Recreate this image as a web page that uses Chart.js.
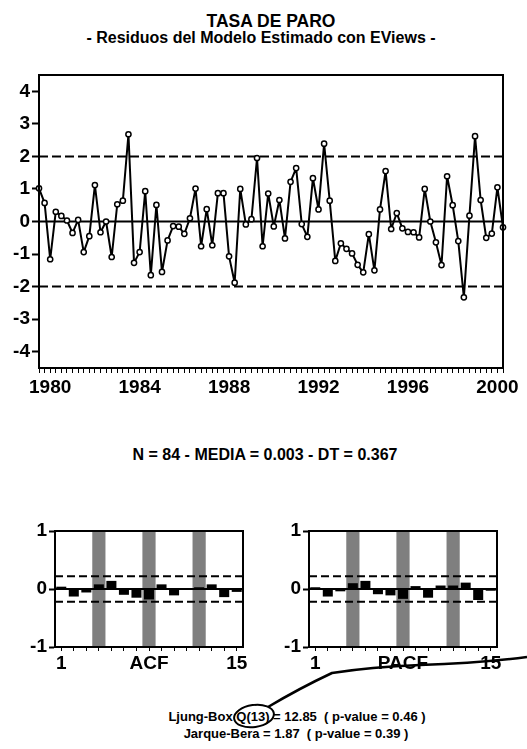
<!DOCTYPE html>
<html>
<head>
<meta charset="utf-8">
<script src="https://cdn.jsdelivr.net/npm/chart.js@4.4.1/dist/chart.umd.min.js"></script>
<style>
  html, body { margin: 0; padding: 0; background: #fff; }
  body { width: 527px; height: 749px; position: relative; overflow: hidden;
         font-family: "Liberation Sans", Arial, sans-serif; color: #000; }
  canvas { position: absolute; }
  .txt { position: absolute; white-space: nowrap; font-weight: bold; transform: translateX(-50%); }
  #notas { position: absolute; left: 0; top: 0; }
</style>
</head>
<body>
<div class="txt" style="left:271px; top:13px; font-size:17.5px; line-height:17px;">TASA DE PARO</div>
<div class="txt" style="left:261px; top:30px; font-size:16px; line-height:16px;">- Residuos del Modelo Estimado con EViews -</div>

<canvas id="residuos" width="527" height="350" style="left:0; top:60px;"></canvas>

<div class="txt" style="left:265px; top:447px; font-size:16px; line-height:16px;">N = 84 - MEDIA = 0.003 - DT = 0.367</div>

<canvas id="acf" width="260" height="175" style="left:0; top:510px;"></canvas>
<canvas id="pacf" width="267" height="175" style="left:260px; top:510px;"></canvas>

<div class="txt" style="left:297px; top:709px; font-size:13px; line-height:16px;">Ljung-Box Q(13) = 12.85&nbsp; ( p-value = 0.46 )</div>
<div class="txt" style="left:296px; top:726px; font-size:13px; line-height:16px;">Jarque-Bera = 1.87&nbsp; ( p-value = 0.39 )</div>

<!-- anotación a mano sobre la imagen -->
<svg id="notas" width="527" height="749">
  <ellipse cx="254" cy="716" rx="20" ry="11" fill="none" stroke="#000" stroke-width="2" transform="rotate(-8 254 716)"/>
  <path d="M 268 707 Q 300 688 332 673 Q 370 667 420 665 Q 480 663 527 657" fill="none" stroke="#000" stroke-width="2.5"/>
</svg>

<script>
// ========== Datos ==========
const anioInicio = 1980;
const anioFin = 2000;
const trimestres = [];
for (let a = anioInicio; a <= anioFin; a++) {
  for (let q = 1; q <= 4; q++) trimestres.push(a + "Q" + q);
}

// residuos estandarizados (trimestral 1980Q1 - 2000Q4)
const residuos = [
  1.02, 0.57, -1.16, 0.30, 0.17, 0.03, -0.35, 0.05, -0.94, -0.45,
  1.12, -0.33, 0.00, -1.09, 0.53, 0.64, 2.68, -1.27, -0.94, 0.93,
  -1.65, 0.51, -1.55, -0.58, -0.14, -0.16, -0.38, 0.10, 1.01, -0.76,
  0.38, -0.73, 0.87, 0.87, -1.07, -1.88, 1.00, -0.09, 0.07, 1.95,
  -0.76, 0.86, -0.15, 0.66, -0.52, 1.22, 1.64, -0.08, -0.47, 1.33,
  0.37, 2.39, 0.64, -1.21, -0.67, -0.84, -0.98, -1.33, -1.56, -0.39,
  -1.50, 0.37, 1.55, -0.23, 0.26, -0.21, -0.32, -0.33, -0.49, 1.00,
  0.00, -0.64, -1.34, 1.39, 0.50, -0.60, -2.33, 0.18, 2.62, 0.66,
  -0.50, -0.37, 1.05, -0.18,
];
const bandasResiduos = [2, -2];
const ticksResiduos = [-4, -3, -2, -1, 0, 1, 2, 3, 4];
const rangoResiduos = [-4.5, 4.5];

const retardos = [1, 2, 3, 4, 5, 6, 7, 8, 9, 10, 11, 12, 13, 14, 15];
const valoresACF = [0.04, -0.13, -0.06, 0.08, 0.14, -0.10, -0.15, -0.18, 0.08, -0.11, 0.01, 0.03, 0.08, -0.14, -0.05];
const valoresPACF = [0.03, -0.13, -0.04, 0.10, 0.14, -0.09, -0.11, -0.17, 0.05, -0.15, 0.06, 0.06, 0.11, -0.19, -0.03];
const retardosEstacionales = [4, 8, 12];
const limiteConfianza = 0.22;
const ticksCorrelograma = [-1, 0, 1];

const FUENTE = "'Liberation Sans', Arial, sans-serif";
const fuenteTicks = { family: FUENTE, size: 19, weight: "bold" };

// marco negro alrededor del área de dibujo
const marco = {
  id: "marco",
  afterDraw(chart) {
    const { ctx, chartArea: a } = chart;
    ctx.save();
    ctx.strokeStyle = "#000";
    ctx.lineWidth = 2;
    ctx.strokeRect(a.left, a.top, a.right - a.left, a.bottom - a.top);
    ctx.restore();
  },
};

// ========== Gráfico de residuos ==========
function lineaConstante(valor, dash, orden) {
  return {
    data: trimestres.map(() => valor),
    borderColor: "#000",
    borderWidth: 2,
    borderDash: dash,
    pointRadius: 0,
    order: orden,
  };
}

new Chart(document.getElementById("residuos"), {
  type: "line",
  data: {
    labels: trimestres,
    datasets: [
      {
        data: residuos,
        borderColor: "#000",
        borderWidth: 2,
        borderJoinStyle: "round",
        tension: 0,
        pointRadius: 2.6,
        pointBorderWidth: 1.5,
        pointBackgroundColor: "#fff",
        pointBorderColor: "#000",
        order: 0,
      },
      lineaConstante(0, [], 1),
      ...bandasResiduos.map((b) => lineaConstante(b, [9, 4], 2)),
    ],
  },
  options: {
    responsive: false,
    animation: false,
    devicePixelRatio: 1,
    layout: { padding: { top: 15, right: 24, left: 0, bottom: 0 } },
    plugins: { legend: { display: false }, tooltip: { enabled: false } },
    scales: {
      x: {
        offset: false,
        grid: { display: true, drawOnChartArea: false, color: "#000", tickLength: 5 },
        border: { display: true, color: "#000", width: 2 },
        ticks: {
          autoSkip: false,
          maxRotation: 0,
          padding: 3,
          color: "#000",
          font: fuenteTicks,
          callback: (v, i) => (i % 16 === 2 ? String(anioInicio + Math.floor(i / 4)) : ""),
        },
        afterFit: (s) => { s.height = 42; },
      },
      y: {
        min: rangoResiduos[0],
        max: rangoResiduos[1],
        afterBuildTicks: (s) => { s.ticks = ticksResiduos.map((v) => ({ value: v })); },
        grid: { display: true, drawOnChartArea: false, color: "#000", tickLength: 7, tickWidth: 2 },
        border: { display: true, color: "#000", width: 2 },
        ticks: { padding: 2, color: "#000", font: fuenteTicks },
        afterFit: (s) => { s.width = 39; },
      },
    },
  },
  plugins: [marco],
});

// ========== Correlogramas ==========
function dibujarCorrelograma(id, valores, titulo, anchoEje, relleno) {
  const xMin = retardos[0] - 0.5;
  const xMax = retardos[retardos.length - 1] + 0.5;
  const linea = (y, dash, orden) => ({
    type: "line",
    data: [{ x: xMin, y: y }, { x: xMax, y: y }],
    borderColor: "#000",
    borderWidth: 2,
    borderDash: dash,
    pointRadius: 0,
    order: orden,
  });
  new Chart(document.getElementById(id), {
    type: "bar",
    data: {
      datasets: [
        linea(0, [], 0),
        {
          data: retardos.map((r, i) => ({ x: r, y: valores[i] })),
          backgroundColor: "#000",
          barPercentage: 0.8,
          categoryPercentage: 1,
          grouped: false,
          order: 1,
        },
        linea(limiteConfianza, [8, 4], 2),
        linea(-limiteConfianza, [8, 4], 2),
        {
          data: retardosEstacionales.map((r) => ({ x: r, y: [-1, 1] })),
          backgroundColor: "#7f7f7f",
          barPercentage: 1,
          categoryPercentage: 1,
          grouped: false,
          order: 3,
        },
      ],
    },
    options: {
      responsive: false,
      animation: false,
      devicePixelRatio: 1,
      layout: { padding: { top: 21, right: relleno, left: 0, bottom: 0 } },
      plugins: { legend: { display: false }, tooltip: { enabled: false } },
      scales: {
        x: {
          type: "linear",
          min: xMin,
          max: xMax,
          offset: false,
          afterBuildTicks: (s) => { s.ticks = retardos.map((v) => ({ value: v })); },
          grid: { display: true, drawOnChartArea: false, offset: false, color: "#000", tickLength: 4 },
          border: { display: true, color: "#000", width: 2 },
          ticks: {
            autoSkip: false,
            maxRotation: 0,
            padding: 1,
            color: "#000",
            font: fuenteTicks,
            callback: (v) => (v === 1 ? "1" : v === 8 ? titulo : v === 15 ? "15" : ""),
          },
          afterFit: (s) => { s.height = 38; },
        },
        y: {
          min: -1,
          max: 1,
          afterBuildTicks: (s) => { s.ticks = ticksCorrelograma.map((v) => ({ value: v })); },
          grid: { display: true, drawOnChartArea: false, color: "#000", tickLength: 6, tickWidth: 2 },
          border: { display: true, color: "#000", width: 2 },
          ticks: { padding: 2, color: "#000", font: fuenteTicks },
          afterFit: (s) => { s.width = anchoEje; },
        },
      },
    },
    plugins: [marco],
  });
}

dibujarCorrelograma("acf", valoresACF, "ACF", 55, 17);
dibujarCorrelograma("pacf", valoresPACF, "PACF", 49, 30);
</script>
</body>
</html>
